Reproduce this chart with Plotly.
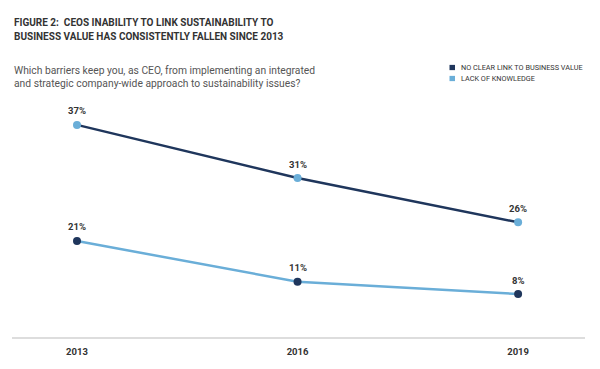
import plotly.graph_objects as go

years = [2013, 2016, 2019]
no_clear_link = [37, 31, 26]
lack_knowledge = [21, 11, 8]
series_names = ["NO CLEAR LINK TO BUSINESS VALUE", "LACK OF KNOWLEDGE"]
tick_labels = ["2013", "2016", "2019"]

DARK = "#1f365c"
LIGHT = "#6aaed8"
TEXT = "#333333"

W, H = 600, 369
L, R, T, B = 12, 15, 100, 21
PH = H - T - B

def py(p):
    return (H - B - p) / PH

def px(p):
    return (p - L) / (W - L - R)

fig = go.Figure()
fig.add_trace(go.Scatter(
    x=years, y=no_clear_link, mode="lines+markers", yaxis="y",
    line=dict(color=DARK, width=2.5),
    marker=dict(color=LIGHT, size=8), showlegend=False, hoverinfo="skip"))
fig.add_trace(go.Scatter(
    x=years, y=lack_knowledge, mode="lines+markers", yaxis="y2",
    line=dict(color=LIGHT, width=2.5),
    marker=dict(color=DARK, size=8), showlegend=False, hoverinfo="skip"))

ann = []
for yr, v in zip(years, no_clear_link):
    ann.append(dict(x=yr, y=v, xref="x", yref="y", text=f"{v}%", showarrow=False,
                    yshift=14, font=dict(family="Roboto", size=9.5, color=TEXT, weight="bold")))
for yr, v in zip(years, lack_knowledge):
    ann.append(dict(x=yr, y=v, xref="x", yref="y2", text=f"{v}%", showarrow=False,
                    yshift=14, font=dict(family="Roboto", size=9.5, color=TEXT, weight="bold")))

ann.append(dict(x=px(12), y=py(19), xref="paper", yref="paper", xanchor="left", yanchor="middle",
                text="FIGURE 2:  CEOS INABILITY TO LINK SUSTAINABILITY TO", showarrow=False,
                font=dict(family="Roboto", size=10, color=TEXT, weight="bold")))
ann.append(dict(x=px(12), y=py(34), xref="paper", yref="paper", xanchor="left", yanchor="middle",
                text="BUSINESS VALUE HAS CONSISTENTLY FALLEN SINCE 2013", showarrow=False,
                font=dict(family="Roboto", size=10, color=TEXT, weight="bold")))
ann.append(dict(x=px(12), y=py(76), xref="paper", yref="paper", xanchor="left", yanchor="middle",
                align="left",
                text="Which barriers keep you, as CEO, from implementing an integrated<br>and strategic company-wide approach to sustainability issues?",
                showarrow=False, font=dict(family="Roboto", size=10.3, color="#555555")))

shapes = []
for i, (name, col) in enumerate(zip(series_names, [DARK, LIGHT])):
    cy = 66 + i * 11.5
    shapes.append(dict(type="rect", xref="paper", yref="paper",
                       x0=px(449.5), x1=px(455), y0=py(cy + 2.75), y1=py(cy - 2.75),
                       fillcolor=col, line=dict(width=0)))
    ann.append(dict(x=px(459), y=py(cy), xref="paper", yref="paper", xanchor="left", yanchor="middle",
                    text=name, showarrow=False, font=dict(family="Roboto", size=7.3, color=TEXT)))

fig.update_layout(
    width=W, height=H, margin=dict(l=L, r=R, t=T, b=B),
    paper_bgcolor="white", plot_bgcolor="white",
    annotations=ann, shapes=shapes,
    xaxis=dict(range=[2012.116, 2019.91], tickvals=years, ticktext=tick_labels,
               showgrid=False, zeroline=False, showline=True, linecolor="#dddddd", linewidth=2,
               ticks="", ticklabelstandoff=5,
               tickfont=dict(family="Roboto", size=9.5, color=TEXT, weight="bold")),
    yaxis=dict(range=[13.05, 39.81], visible=False),
    yaxis2=dict(range=[-2.53, 55.55], visible=False, overlaying="y"),
)

fig.write_html("out.html", config={"displayModeBar": False},
               post_script="document.body.style.margin='0';")
